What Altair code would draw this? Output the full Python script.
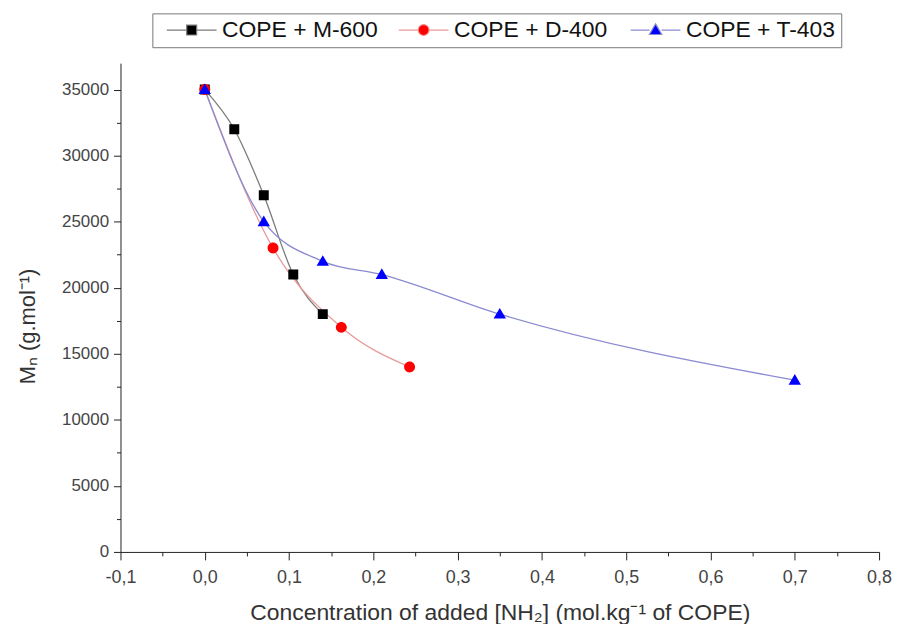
import altair as alt
import pandas as pd

series_names = ["COPE + M-600", "COPE + D-400", "COPE + T-403"]
m600_x = [0.0, 0.035, 0.07, 0.105, 0.14]
m600_y = [35000, 32000, 27000, 21000, 18000]
d400_x = [0.0, 0.081, 0.162, 0.243]
d400_y = [35000, 23000, 17000, 14000]
t403_x = [0.0, 0.07, 0.14, 0.21, 0.35, 0.70]
t403_y = [35000, 25000, 22000, 21000, 18000, 13000]

marker_colors = ["#000000", "#ff0000", "#0000ff"]
line_colors = ["#7a7a7a", "#e89a9a", "#8a8ad2"]
shape_paths = [
    "M-2.5,0H-0.5M0.5,0H2.5M-0.5,-0.5H0.5V0.5H-0.5Z",
    "M-2.5,0H-0.55M0.55,0H2.5M0.55,0A0.55,0.55,0,1,1,-0.55,0A0.55,0.55,0,1,1,0.55,0Z",
    "M-2.5,0H-0.6M0.6,0H2.5M0,-0.62L0.62,0.45L-0.62,0.45Z",
]

rows = []
for name, xs, ys in zip(series_names, [m600_x, d400_x, t403_x], [m600_y, d400_y, t403_y]):
    for i, (xv, yv) in enumerate(zip(xs, ys)):
        rows.append({"series": name, "x": xv, "y": yv, "order": i})
df = pd.DataFrame(rows)

x_vals = [round(-0.1 + 0.05 * i, 2) for i in range(19)]
y_vals = [2500 * i for i in range(15)]

font = "Liberation Sans"

x_axis = alt.Axis(
    values=x_vals,
    labelExpr="abs(datum.value*10 - round(datum.value*10)) < 0.01 ? replace(replace(format(datum.value, '.1f'), '.', ','), '\u2212', '-') : ''",
    tickSize={"condition": {"test": "abs(datum.value*10 - round(datum.value*10)) < 0.01", "value": 8}, "value": 4},
    grid=False,
    domainColor="#222",
    tickColor="#222",
    labelColor="#444",
    labelFontSize=18,
    labelFont=font,
    labelPadding=9,
    labelFlush=False,
    titleFont=font,
    titleFontSize=23,
    titleFontWeight="normal",
    titleColor="#333",
    titlePadding=15,
)
y_axis = alt.Axis(
    values=y_vals,
    labelExpr="datum.value % 5000 == 0 ? format(datum.value, 'd') : ''",
    tickSize={"condition": {"test": "datum.value % 5000 == 0", "value": 7}, "value": 4},
    grid=False,
    domainColor="#222",
    tickColor="#222",
    labelColor="#444",
    labelFontSize=17,
    labelFont=font,
    labelPadding=5,
    labelFlush=False,
    titleFont=font,
    titleFontSize=22,
    titleFontWeight="normal",
    titleColor="#333",
    titleX=-93,
    titleY=264,
    titleBaseline="middle",
)

x_enc = alt.X("x:Q", scale=alt.Scale(domain=[-0.1, 0.8], nice=False, zero=False),
              axis=x_axis, title="Concentration of added [NH\u2082] (mol.kg\u207b\u00b9 of COPE)")
y_enc = alt.Y("y:Q", scale=alt.Scale(domain=[0, 37000], nice=False),
              axis=y_axis, title="M\u2099 (g.mol\u207b\u00b9)")

legend = alt.Legend(
    title=None,
    orient="none",
    direction="horizontal",
    legendX=32,
    legendY=-50,
    strokeColor="#777",
    fillColor="white",
    padding=5,
    symbolSize=400,
    symbolStrokeWidth=1.2,
    labelOffset=19,
    labelLimit=400,
    columnPadding=11,
    gridAlign="all",
    symbolOffset=23,
    labelExpr="datum.label + '\u00a0\u00a0'",
    labelFont=font,
    labelFontSize=23,
    labelColor="#111",
)

lines = alt.Chart(df).mark_line(interpolate="monotone", strokeWidth=1.3).encode(
    x=x_enc,
    y=y_enc,
    order="order:Q",
    stroke=alt.Stroke("series:N", scale=alt.Scale(domain=series_names, range=line_colors), legend=legend),
)
points = alt.Chart(df).mark_point(filled=True, size=400, opacity=1, strokeWidth=0).encode(
    x=x_enc,
    y=y_enc,
    fill=alt.Fill("series:N", scale=alt.Scale(domain=series_names, range=marker_colors), legend=legend),
    shape=alt.Shape("series:N", scale=alt.Scale(domain=series_names, range=shape_paths), legend=legend),
)

chart = alt.layer(lines, points).properties(
    width=762,
    height=491,
    padding={"left": 113, "top": 54, "right": 15, "bottom": 71},
    autosize=alt.AutoSizeParams(type="none"),
    background="white",
).configure_view(stroke=None)

chart.save("out.html", embed_options={"renderer": "svg", "actions": False})
